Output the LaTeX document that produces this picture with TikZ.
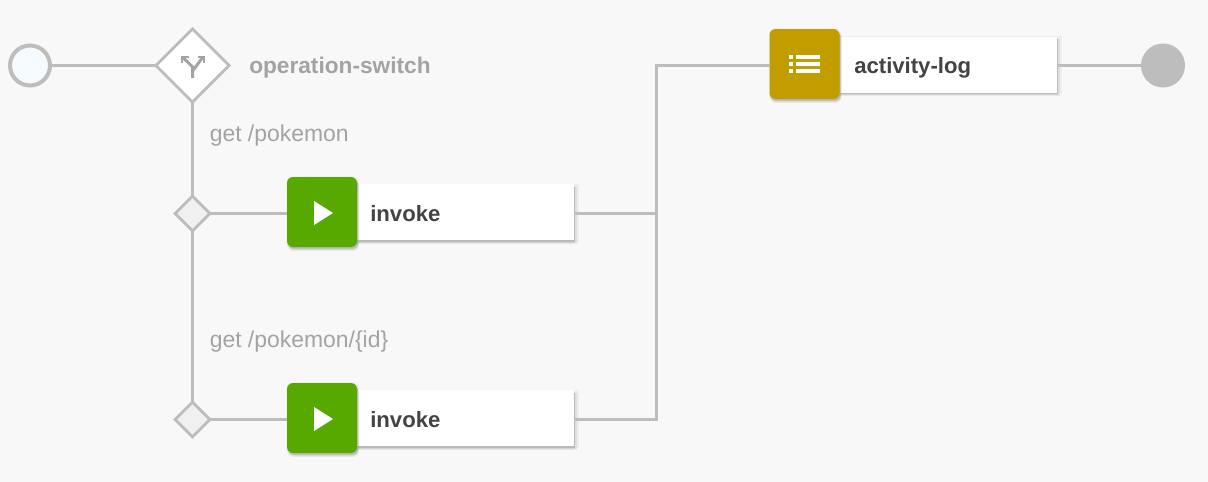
\documentclass[tikz,border=0pt]{standalone}
\usepackage{fontspec}
\setmainfont{Liberation Sans}
\usetikzlibrary{shapes.geometric,shadows,calc}
\definecolor{bgc}{HTML}{F8F8F8}
\definecolor{wire}{HTML}{BDBDBD}
\definecolor{greenc}{HTML}{57A900}
\definecolor{goldc}{HTML}{C29D00}
\definecolor{titlec}{HTML}{434343}
\definecolor{mutedc}{HTML}{A3A3A3}
\definecolor{startc}{HTML}{F5FAFF}
\tikzset{
  softshadow/.style={
    drop shadow={shadow xshift=0.6pt,shadow yshift=-0.6pt,opacity=.08,shadow scale=1.04},
    drop shadow={shadow xshift=0.8pt,shadow yshift=-2.4pt,opacity=.14,shadow scale=1.02},
    drop shadow={shadow xshift=1.0pt,shadow yshift=-1.9pt,opacity=.18,shadow scale=1.0},
    drop shadow={shadow xshift=0.8pt,shadow yshift=-1.3pt,opacity=.24,shadow scale=1.0}},
  wireline/.style={draw=wire,line width=2.25pt},
  cardbox/.style={draw=none,fill=white,minimum width=162.75pt,minimum height=42pt,inner sep=0pt,outer sep=0pt,softshadow},
  iconbox/.style={draw=none,rounded corners=4.5pt,minimum width=52.5pt,minimum height=52.5pt,inner sep=0pt,outer sep=0pt,softshadow},
  gatebig/.style={diamond,aspect=1,draw=wire,line width=2.2pt,fill=white,minimum width=55pt,minimum height=55pt,inner sep=0pt,outer sep=0pt},
  gatesmall/.style={diamond,aspect=1,draw=wire,line width=2.2pt,fill=black!6,minimum width=26pt,minimum height=26pt,inner sep=0pt,outer sep=0pt},
  titletext/.style={font=\bfseries\fontsize{16.6}{20}\selectfont,text=titlec,anchor=base west,inner sep=0pt},
  switchtext/.style={font=\bfseries\fontsize{17}{20}\selectfont,text=mutedc,anchor=base west,inner sep=0pt},
  casetext/.style={font=\fontsize{17.2}{20}\selectfont,text=mutedc,anchor=base west,inner sep=0pt},
}
\begin{document}
\begin{tikzpicture}[x=0.75pt,y=-0.75pt]
\fill[bgc] (0,0) rectangle (1208,482);
\useasboundingbox (0,0) rectangle (1208,482);

% nodes
\node[circle,draw=wire,line width=3pt,fill=startc,minimum size=30pt,inner sep=0pt,outer sep=0pt] (start) at (30,65.5) {};
\node[gatebig] (switch) at (192.5,65.5) {};
\node[switchtext] (switchlabel) at (249,73) {operation-switch};
\node[casetext] (caseone) at (209.5,141) {get /pokemon};
\node[casetext] (casetwo) at (209.5,347) {get /pokemon/\{id\}};
\node[gatesmall] (gateone) at (192.5,213.5) {};
\node[gatesmall] (gatetwo) at (192.5,419.5) {};

\node[cardbox] (cardone) at (465.5,212) {};
\node[iconbox,fill=greenc] (iconone) at (322,212) {};
\node[titletext] (titleone) at (370,221) {invoke};
\node[cardbox] (cardtwo) at (465.5,418) {};
\node[iconbox,fill=greenc] (icontwo) at (322,418) {};
\node[titletext] (titletwo) at (370,427) {invoke};
\node[cardbox] (cardlog) at (948.5,64.5) {};
\node[iconbox,fill=goldc] (iconlog) at (804.5,64) {};
\node[titletext] (titlelog) at (854,73) {activity-log};

\node[circle,fill=wire,minimum size=33pt,inner sep=0pt,outer sep=0pt] (finish) at (1163,65.5) {};

\coordinate (corner) at (656.5,65.5);
\coordinate (joinone) at (656.5,213.5);
\coordinate (jointwo) at (656.5,419.5);

% connectors
\draw[wireline] (start) -- (switch);
\draw[wireline] (switch) -- (gateone);
\draw[wireline] (gateone) -- (gatetwo);
\draw[wireline] (gateone.east) -- (iconone.west |- gateone.east);
\draw[wireline] (gatetwo.east) -- (icontwo.west |- gatetwo.east);
\draw[wireline] (cardone.east |- joinone) -- (joinone);
\draw[wireline] (cardtwo.east |- jointwo) -- (jointwo) -- (corner) -- (iconlog.west |- corner);
\draw[wireline] (cardlog.east |- finish) -- (finish);

% icons
\fill[white] (314,201) -- (333,213) -- (314,225) -- cycle;
\fill[white] (314,407) -- (333,419) -- (314,431) -- cycle;
\foreach \yy in {55,62,69}{
  \fill[white] (789,\yy) rectangle (793,\yy+3.5);
  \fill[white] (796,\yy) rectangle (820,\yy+3.5);
}
\begin{scope}[draw=mutedc,line width=2.2pt]
  \draw (192.7,78) -- (192.7,67) -- (183,57.5);
  \draw (192.7,71) -- (202.5,57.5);
  \draw (182,63) -- (182,57) -- (188.5,57);
  \draw (197.5,57) -- (204,57) -- (204,63);
\end{scope}
\end{tikzpicture}
\end{document}
